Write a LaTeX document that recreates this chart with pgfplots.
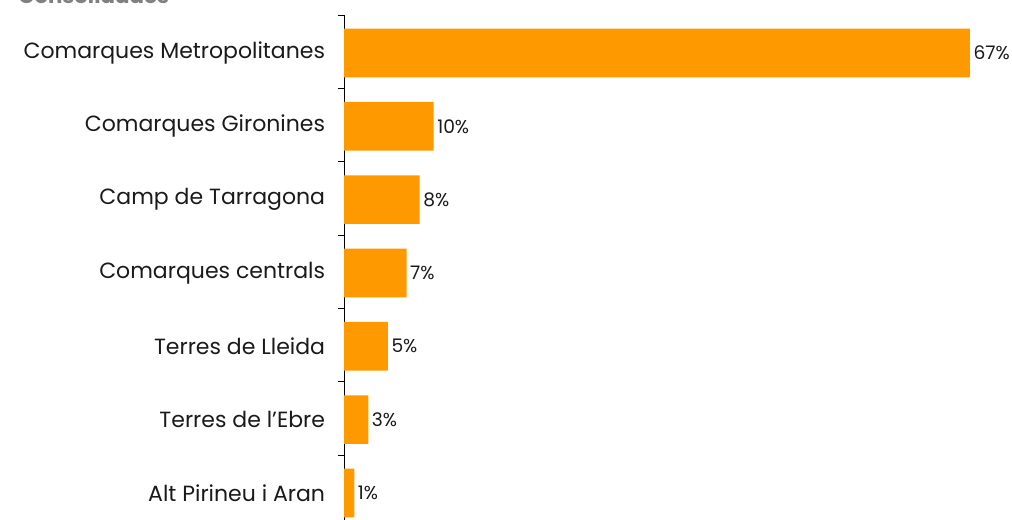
\documentclass[border=0pt]{standalone}
\usepackage{pgfplots}
\pgfplotsset{compat=1.18}
\usepackage{fontspec}
\setmainfont{Poppins}
\definecolor{barorange}{HTML}{FF9900}
\definecolor{labelgray}{HTML}{1A1A1A}
\begin{document}
\begin{tikzpicture}
\useasboundingbox (0,0) rectangle (759pt,-390pt);
\clip (0,0) rectangle (759pt,-390pt);
\node[anchor=base west, font=\bfseries\fontsize{16}{19}\selectfont, text=gray, inner sep=0pt] at (13.5pt,-3pt) {Consolidades};
\begin{axis}[
 at={(258pt,-11.25pt)}, anchor=north west,
 scale only axis, width=490.5pt, height=385pt,
 xmin=0, xmax=70, ymin=-0.5, ymax=6.5,
 xbar, bar width=36.5pt, bar shift=-1pt,
 axis x line=none, axis y line*=left,
 ytick={0,...,6},
 yticklabels={Alt Pirineu i Aran, Terres de l{\char"0027}Ebre, Terres de Lleida, Comarques centrals, Camp de Tarragona, Comarques Gironines, Comarques Metropolitanes},
 major tick length=0pt,
 minor ytick={-0.5,0.5,...,6.5},
 minor tick length=4.5pt, tick align=outside,
 tick style={black, line width=0.6pt},
 axis line style={black, line width=0.6pt},
 yticklabel style={font=\fontsize{16.5}{19}\selectfont, text=labelgray, anchor=east, inner sep=0pt, xshift=-14pt, yshift=-1pt},
 clip=false,
 nodes near coords,
 point meta=x,
 nodes near coords style={font=\fontsize{14}{16}\selectfont, text=labelgray, anchor=west, inner sep=0pt, xshift=2.5pt,
   /pgf/number format/.cd, fixed, precision=0},
 nodes near coords={\pgfmathprintnumber[assume math mode=true]{\pgfplotspointmeta}\%},
]
\addplot[fill=barorange, draw=none] coordinates {
 (1.1,0) (2.6,1) (4.7,2) (6.7,3) (8.1,4) (9.6,5) (67,6)
};
\end{axis}
\end{tikzpicture}
\end{document}
